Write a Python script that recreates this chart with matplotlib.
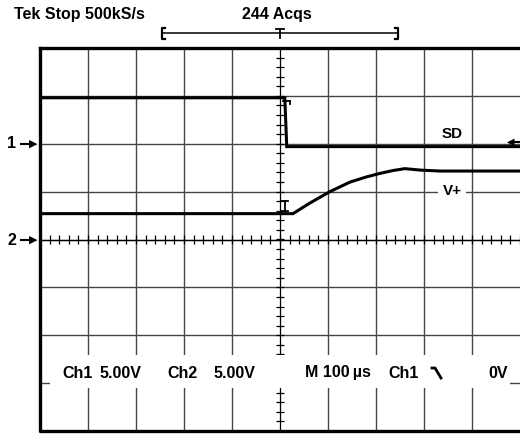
import matplotlib
matplotlib.use("Agg")
import matplotlib.pyplot as plt
from matplotlib.patches import Rectangle
from matplotlib.lines import Line2D
import numpy as np

plt.rcParams['font.family'] = ['Liberation Sans', 'DejaVu Sans']

W, H = 520, 434

# time axis: 100 us/div, trigger at centre
sd_t = [-500, 10, 14, 500]
sd_v = [4.8, 4.8, -0.3, -0.3]          # Ch1, 5 V/div, ground 2 div up
vp_t = [-500, 27, 62, 104, 146, 181, 208, 235, 260, 292, 333, 500]
vp_v = [2.7, 2.7, 3.8, 5.0, 6.0, 6.55, 6.9, 7.2, 7.4, 7.25, 7.15, 7.15]  # Ch2
ch1_off, ch2_off = 2.0, 0.0
vdiv = 5.0

bottom_labels = ["Ch1", "5.00V", "Ch2", "5.00V", "M 100\u2009\u00b5s", "Ch1", "0V"]
bottom_x = [62, 100, 167, 213, 305, 388, 488]

FS = 11.5


def fx(x):
    return x / W


def fy(y):
    return 1 - y / H


fig = plt.figure(figsize=(W / 100, H / 100), dpi=100)
fig.patch.set_facecolor("white")
ax = fig.add_axes([fx(40), fy(431), fx(520) - fx(40), fy(48) - fy(431)])
ax.set_xlim(-500, 500)
ax.set_ylim(-4, 4)
ax.axis("off")

grid_c = "#454545"
# graticule
for t in range(-400, 500, 100):
    if t == 0:
        continue
    ax.plot([t, t], [-4, 4], color=grid_c, lw=1.0, zorder=1)
for d in range(-3, 4):
    ax.plot([-500, 500], [d, d], color=grid_c, lw=1.0, zorder=1)
# centre lines with minor ticks
ax.plot([0, 0], [-4, 4], color="black", lw=0.9, zorder=1)
ax.plot([-500, 500], [0, 0], color="black", lw=0.9, zorder=1)
mt = np.arange(-500, 501, 20)
ax.vlines(mt, -0.085, 0.085, color="black", lw=0.9, zorder=1)
my = np.arange(-4, 4.01, 0.2)
ax.hlines(my, -8.5, 8.5, color="black", lw=0.9, zorder=1)

# white band behind the readout
fig.add_artist(Rectangle((fx(50), fy(388)), fx(510) - fx(50), fy(355) - fy(388),
                         facecolor="white", edgecolor="none", zorder=2))

# border
ax.plot([-500, -500, 500], [4, -4, -4], color="black", lw=2.4, zorder=5, clip_on=False)
ax.plot([-500, 500], [4, 4], color="black", lw=2.4, zorder=5, clip_on=False)

# traces
ax.plot(sd_t, np.array(sd_v) / vdiv + ch1_off, color="black", lw=2.2, zorder=4,
        solid_joinstyle="miter")
ax.plot(vp_t, np.array(vp_v) / vdiv + ch2_off, color="black", lw=2.2, zorder=4)

# trace labels
fig.text(fx(452), fy(134), "SD", ha="center", va="center", fontsize=11,
         fontweight="bold")
fig.text(fx(452), fy(191), "V+", ha="center", va="center", fontsize=11,
         fontweight="bold", zorder=3,
         bbox=dict(facecolor="white", edgecolor="none", pad=3))

# trigger markers
for seg in [([283, 290], [101, 101]), ([290, 290], [101, 104]),
            ([281, 288], [201, 201]), ([285, 285], [201, 211]), ([282, 288], [211, 211])]:
    fig.add_artist(Line2D([fx(v) for v in seg[0]], [fy(v) for v in seg[1]],
                          color="black", lw=1.3, zorder=6))
fig.text(fx(511), fy(142), "\u25c0", ha="center", va="center", fontsize=7,
         family="DejaVu Sans", zorder=6)
fig.add_artist(Line2D([fx(510), fx(520)], [fy(142), fy(142)], color="black", lw=1.5,
                      zorder=6))

# channel ground markers
for lab, yy in [("1", 144), ("2", 240)]:
    fig.text(fx(12), fy(yy), lab, ha="center", va="center", fontsize=FS,
             fontweight="bold")
    fig.add_artist(Line2D([fx(21), fx(30)], [fy(yy), fy(yy)], color="black", lw=1.5))
    fig.text(fx(33), fy(yy), "\u25b6", ha="center", va="center", fontsize=8,
             family="DejaVu Sans")

# header
fig.text(fx(14), fy(15), "Tek Stop 500kS/s", ha="left", va="center", fontsize=FS,
         fontweight="bold")
fig.text(fx(277), fy(15), "244 Acqs", ha="center", va="center", fontsize=FS,
         fontweight="bold")
fig.add_artist(Line2D([fx(162), fx(398)], [fy(33), fy(33)], color="black", lw=1.1))
for xb, d in [(162, 3), (398, -3)]:
    fig.add_artist(Line2D([fx(xb + d), fx(xb), fx(xb), fx(xb + d)],
                          [fy(28), fy(28), fy(39), fy(39)], color="black", lw=1.6))
fig.add_artist(Line2D([fx(276), fx(284)], [fy(29), fy(29)], color="black", lw=1.3))
fig.add_artist(Line2D([fx(280), fx(280)], [fy(29), fy(38)], color="black", lw=1.3))

# readout
for lab, xx in zip(bottom_labels, bottom_x):
    fig.text(fx(xx), fy(373), lab, ha="left", va="center", fontsize=FS,
             fontweight="bold", zorder=3, family=["Liberation Sans", "DejaVu Sans"])
fig.add_artist(Line2D([fx(432), fx(435), fx(441)], [fy(368), fy(368), fy(378)],
                      color="black", lw=2, zorder=3))

fig.savefig("out.png", dpi=100)
